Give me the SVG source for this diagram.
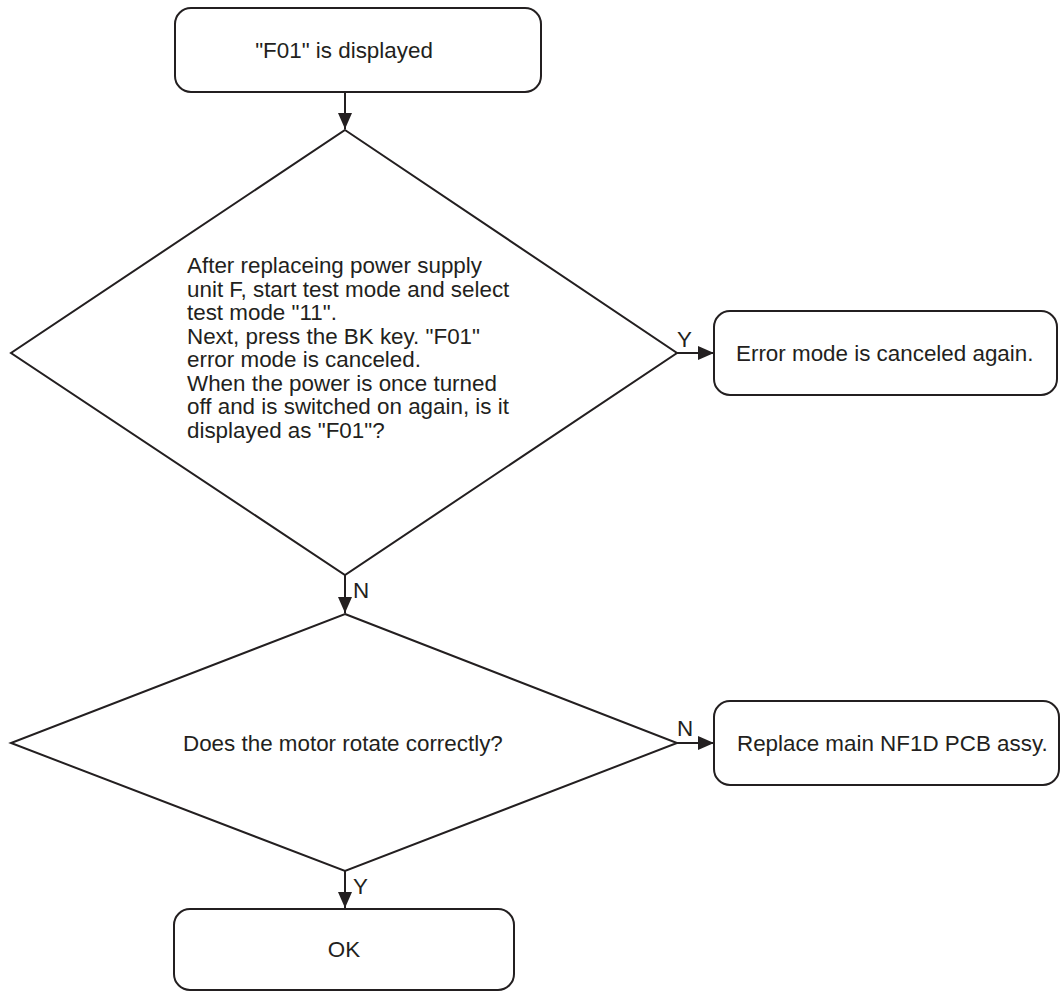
<svg xmlns="http://www.w3.org/2000/svg" width="1061" height="992" viewBox="0 0 1061 992">
<style>
.box{fill:#fff;stroke:#231f20;stroke-width:2}
.t{font-family:"Liberation Sans",Arial,sans-serif;font-size:22.4px;fill:#231f20}
.c{text-anchor:middle}
.conn{fill:none;stroke:#231f20;stroke-width:2}
</style>
<defs>
<marker id="ah" markerUnits="userSpaceOnUse" markerWidth="17" markerHeight="15" refX="16" refY="7" orient="auto">
<path d="M0,0 L16,7 L0,14 z" fill="#231f20"/>
</marker>
</defs>
<rect width="1061" height="992" fill="#fff"/>
<g id="connectors">
<line class="conn" x1="345" y1="92" x2="345" y2="129" marker-end="url(#ah)"/>
<line class="conn" x1="677" y1="353" x2="714" y2="353" marker-end="url(#ah)"/>
<line class="conn" x1="345" y1="575" x2="345" y2="613" marker-end="url(#ah)"/>
<line class="conn" x1="677" y1="743" x2="714" y2="743" marker-end="url(#ah)"/>
<line class="conn" x1="345" y1="871" x2="345" y2="908" marker-end="url(#ah)"/>
<text class="t" x="677" y="347">Y</text>
<text class="t" x="353" y="598">N</text>
<text class="t" x="677" y="736">N</text>
<text class="t" x="353" y="894">Y</text>
</g>
<g id="start">
<rect class="box" x="175" y="8" width="366" height="84" rx="16"/>
<text class="t c" x="344" y="58">"F01" is displayed</text>
</g>
<g id="decision1">
<polygon class="box" points="345,130 677,353 345,575 11,353"/>
<text class="t" x="187">
<tspan x="187" y="273">After replaceing power supply</tspan>
<tspan x="187" y="296.5">unit F, start test mode and select</tspan>
<tspan x="187" y="320">test mode "11".</tspan>
<tspan x="187" y="343.5">Next, press the BK key. "F01"</tspan>
<tspan x="187" y="367">error mode is canceled.</tspan>
<tspan x="187" y="390.5">When the power is once turned</tspan>
<tspan x="187" y="414">off and is switched on again, is it</tspan>
<tspan x="187" y="437.5">displayed as "F01"?</tspan>
</text>
</g>
<g id="error-canceled">
<rect class="box" x="714" y="311" width="343" height="84" rx="16"/>
<text class="t" x="736" y="361">Error mode is canceled again.</text>
</g>
<g id="decision2">
<polygon class="box" points="345,614 677,743 345,871 11,743"/>
<text class="t" x="183" y="751">Does the motor rotate correctly?</text>
</g>
<g id="replace">
<rect class="box" x="714" y="701" width="345" height="84" rx="16"/>
<text class="t" x="737" y="751">Replace main NF1D PCB assy.</text>
</g>
<g id="ok">
<rect class="box" x="174" y="909" width="340" height="81" rx="16"/>
<text class="t c" x="344" y="957">OK</text>
</g>
</svg>
